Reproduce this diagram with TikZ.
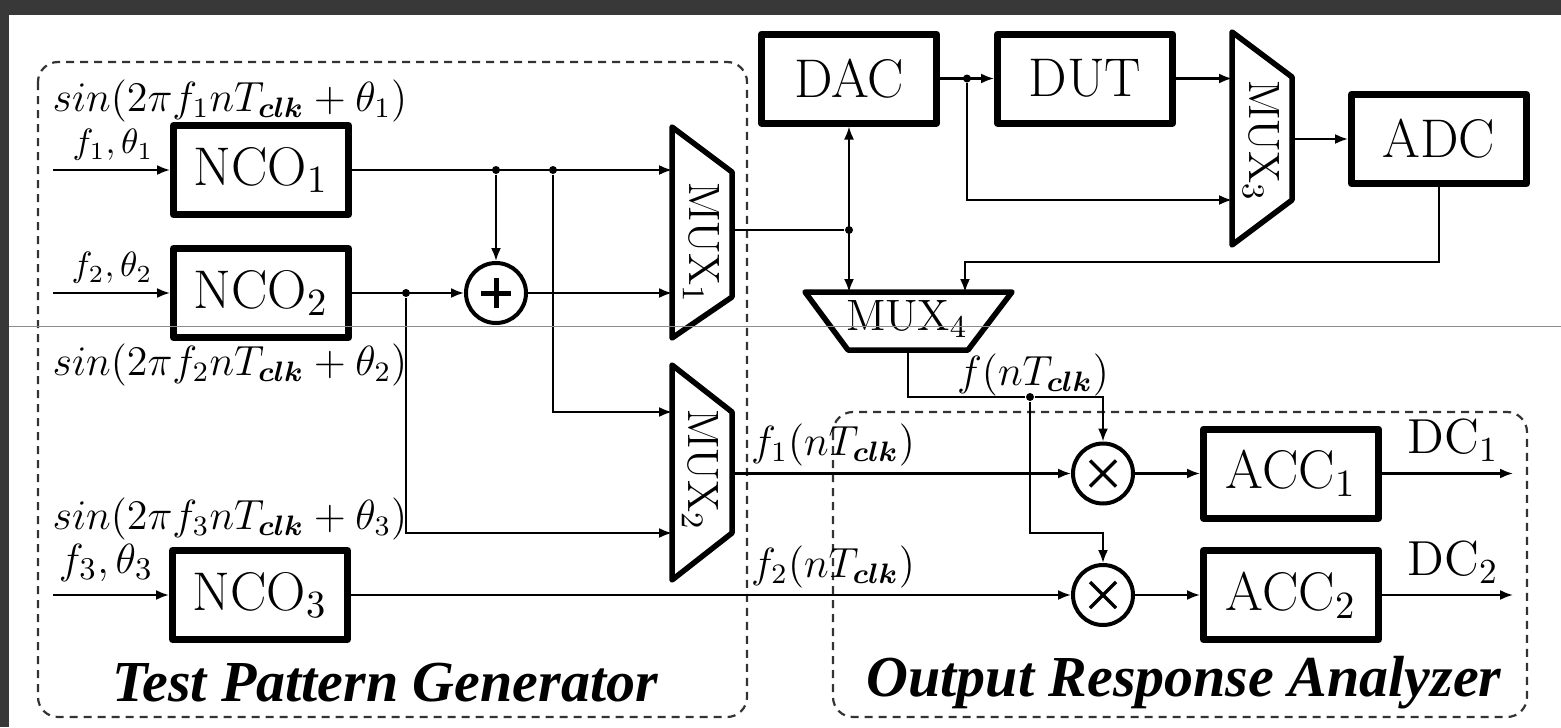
\documentclass[tikz,border=0pt]{standalone}
\usepackage{amsmath, amssymb}
\usepackage{fontspec}
\usepackage{tikz}
\usetikzlibrary{arrows.meta}
\newfontfamily\titlefont{Liberation Serif}
\tikzset{
    block/.style={draw, rectangle, line width=0.07cm, line join=round, minimum width=1.75cm, minimum height=0.89cm, inner sep=0pt, align=center, font=\fontsize{15.5}{18}\selectfont},
    mux/.style={draw, line width=0.055cm, line join=round},
    muxtext/.style={inner sep=0pt, font=\fontsize{12.5}{15}\selectfont},
    op/.style={draw, circle, line width=0.04cm, minimum size=0.6cm, inner sep=0pt},
    wire/.style={line width=0.6pt},
    arrow/.style={-{Latex[length=0.13cm, width=0.1cm]}},
    biarrow/.style={{Latex[length=0.13cm, width=0.1cm]}-{Latex[length=0.13cm, width=0.1cm]}},
    jdot/.style={circle, fill, inner sep=0pt, minimum size=0.08cm},
    groupbox/.style={draw=black!80, line width=0.022cm, dash pattern=on 0.08cm off 0.06cm, rounded corners=0.2cm},
    lbl/.style={inner sep=0pt, font=\fontsize{12}{14}\selectfont},
    grouptitle/.style={inner sep=0pt, font=\fontsize{16.5}{19}\selectfont\titlefont\bfseries\itshape}
}
\newcommand{\Tclk}{T_{\boldsymbol{clk}}}

\begin{document}
\begin{tikzpicture}
\fill[black!78] (0,0) rectangle (15.61,-0.15);
\fill[black!78] (0,0) rectangle (0.09,-7.27);
\useasboundingbox (0,0) rectangle (15.61,-7.27);

\draw[groupbox] (0.38,-0.62) rectangle (7.47,-7.17);
\draw[groupbox] (8.33,-4.12) rectangle (15.27,-7.17);
\node[grouptitle] (tpg) at (3.85,-6.83) {Test Pattern Generator};
\node[grouptitle] (ora) at (11.84,-6.83) {Output Response Analyzer};

\node[block] (nco1) at (2.61,-1.70) {NCO$_1$};
\node[block] (nco2) at (2.61,-2.93) {NCO$_2$};
\node[block] (nco3) at (2.60,-5.95) {NCO$_3$};
\node[block] (dac) at (8.49,-0.785) {DAC};
\node[block] (dut) at (10.85,-0.785) {DUT};
\node[block] (adc) at (14.39,-1.39) {ADC};
\node[block] (acc1) at (12.91,-4.735) {ACC$_1$};
\node[block] (acc2) at (12.91,-5.95) {ACC$_2$};

\node[op] (add) at (4.96,-2.93) {};
\node[op] (mul1) at (11.03,-4.735) {};
\node[op] (mul2) at (11.03,-5.95) {};
\draw[line width=0.05cm] ([xshift=-0.15cm]add.center) -- ([xshift=0.15cm]add.center)
    ([yshift=-0.15cm]add.center) -- ([yshift=0.15cm]add.center);
\foreach \m in {mul1,mul2} {
    \draw[line width=0.035cm] ([shift={(-0.13,-0.13)}]\m.center) -- ([shift={(0.13,0.13)}]\m.center)
        ([shift={(-0.13,0.13)}]\m.center) -- ([shift={(0.13,-0.13)}]\m.center);
}

\draw[mux] (6.72,-1.27) -- (7.32,-1.72) -- (7.32,-2.97) -- (6.72,-3.38) -- cycle;
\node[muxtext, rotate=-90] (mux1) at (7.01,-2.43) {MUX$_1$};
\draw[mux] (6.72,-3.65) -- (7.32,-4.12) -- (7.32,-5.33) -- (6.72,-5.80) -- cycle;
\node[muxtext, rotate=-90] (mux2) at (7.00,-4.70) {MUX$_2$};
\draw[mux] (12.32,-0.32) -- (12.92,-0.77) -- (12.92,-2.00) -- (12.32,-2.45) -- cycle;
\node[muxtext, rotate=-90] (mux3) at (12.61,-1.41) {MUX$_3$};
\draw[mux] (8.05,-2.92) -- (10.12,-2.92) -- (9.68,-3.50) -- (8.48,-3.50) -- cycle;
\node[muxtext] (mux4) at (9.07,-3.19) {MUX$_4$};

\coordinate (mux1a) at (6.72,-1.70);
\coordinate (mux1b) at (6.72,-2.93);
\coordinate (mux1o) at (7.32,-2.30);
\coordinate (mux2a) at (6.72,-4.12);
\coordinate (mux2b) at (6.72,-5.33);
\coordinate (mux2o) at (7.32,-4.735);
\coordinate (mux3a) at (12.32,-0.785);
\coordinate (mux3b) at (12.32,-2.00);
\coordinate (mux3o) at (12.92,-1.39);
\coordinate (mux4a) at (8.49,-2.92);
\coordinate (mux4b) at (9.65,-2.92);
\coordinate (mux4o) at (9.08,-3.50);

\coordinate (in1) at (0.53,-1.70);
\coordinate (in2) at (0.53,-2.93);
\coordinate (in3) at (0.53,-5.95);
\coordinate (out1) at (15.13,-4.735);
\coordinate (out2) at (15.13,-5.95);
\coordinate (fb) at (14.39,-2.62);

\node[jdot] (j1) at (4.96,-1.70) {};
\node[jdot] (j2) at (5.53,-1.70) {};
\node[jdot] (j3) at (4.06,-2.93) {};
\node[jdot] (j4) at (8.49,-2.30) {};
\node[jdot] (j5) at (9.67,-0.785) {};
\node[jdot] (j6) at (10.30,-3.97) {};
\coordinate (j7) at (10.30,-5.33);

\draw[wire, arrow] (in1) -- (nco1);
\draw[wire, arrow] (in2) -- (nco2);
\draw[wire, arrow] (in3) -- (nco3);
\draw[wire, arrow] (nco1) -- (mux1a);
\draw[wire, arrow] (j1) -- (add);
\draw[wire, arrow] (nco2) -- (add);
\draw[wire, arrow] (add) -- (mux1b);
\draw[wire, arrow] (j2) |- (mux2a);
\draw[wire, arrow] (j3) |- (mux2b);
\draw[wire] (mux1o) -- (j4);
\draw[wire, biarrow] (dac.south) -- (mux4a);
\draw[wire, arrow] (dac) -- (dut);
\draw[wire, arrow] (j5) |- (mux3b);
\draw[wire, arrow] (dut) -- (mux3a);
\draw[wire, arrow] (mux3o) -- (adc);
\draw[wire, arrow] (adc.south) -- (fb) -| (mux4b);
\draw[wire, arrow] (mux4o) |- (j6) -| (mul1.north);
\draw[wire, arrow] (j6) -- (j7) -| (mul2.north);
\draw[wire, arrow] (mux2o) -- (mul1);
\draw[wire, arrow] (nco3) -- (mul2);
\draw[wire, arrow] (mul1) -- (acc1);
\draw[wire, arrow] (mul2) -- (acc2);
\draw[wire, arrow] (acc1) -- (out1);
\draw[wire, arrow] (acc2) -- (out2);

\node[lbl, font=\fontsize{10}{12}\selectfont] (fin1) at (1.13,-1.45) {$f_1,\theta_1$};
\node[lbl, font=\fontsize{10}{12}\selectfont] (fin2) at (1.12,-2.68) {$f_2,\theta_2$};
\node[lbl, font=\fontsize{13}{15}\selectfont] (fin3) at (1.06,-5.63) {$f_3,\theta_3$};
\node[lbl] (sin1) at (2.30,-1.01) {$sin(2\pi f_1 n\Tclk+\theta_1)$};
\node[lbl] (sin2) at (2.30,-3.65) {$sin(2\pi f_2 n\Tclk+\theta_2)$};
\node[lbl] (sin3) at (2.30,-5.19) {$sin(2\pi f_3 n\Tclk+\theta_3)$};
\node[lbl] (fn) at (10.33,-3.75) {$f(n\Tclk)$};
\node[lbl] (f1n) at (8.33,-4.45) {$f_1(n\Tclk)$};
\node[lbl] (f2n) at (8.33,-5.67) {$f_2(n\Tclk)$};
\node[lbl, font=\fontsize{14}{16}\selectfont] (dc1) at (14.53,-4.40) {DC$_1$};
\node[lbl, font=\fontsize{14}{16}\selectfont] (dc2) at (14.53,-5.62) {DC$_2$};

\draw[black!45, line width=0.01cm] (0.09,-3.26) -- (15.61,-3.26);
\end{tikzpicture}
\end{document}
